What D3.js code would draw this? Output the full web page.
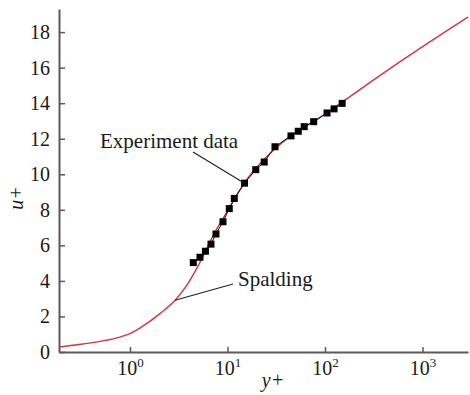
<!DOCTYPE html>
<html>
<head>
<meta charset="utf-8">
<script src="https://cdn.jsdelivr.net/npm/d3@7"></script>
<style>
  html, body { margin: 0; padding: 0; background: #fff; }
  svg text { font-family: "Liberation Serif", "DejaVu Serif", serif; fill: #1a1a1a; }
</style>
</head>
<body>
<div id="chart"></div>
<script>
// Spalding curve
const splY = [0.187, 0.3, 0.49, 0.79, 1.0, 1.27, 2.03, 2.9, 3.82, 4.83, 7.15, 10.6, 15.1, 25.2, 43.8, 89, 153, 541, 2930];
const splU = [0.28, 0.42, 0.6, 0.84, 1.04, 1.36, 2.16, 2.91, 3.75, 4.69, 6.56, 8.16, 9.56, 10.98, 12.13, 13.2, 14.1, 16.2, 18.85];

// experiment data
const expY = [4.46, 5.22, 5.94, 6.77, 7.62, 8.99, 10.43, 11.74, 14.94, 19.5, 23.8, 30.7, 44.8, 53.2, 61.2, 76.6, 105, 124, 150];
const expU = [5.03, 5.33, 5.67, 6.07, 6.64, 7.33, 8.07, 8.64, 9.50, 10.26, 10.69, 11.55, 12.16, 12.42, 12.68, 12.96, 13.45, 13.68, 13.99];

const xTicks = [1, 10, 100, 1000];
const xTickExp = ['0', '1', '2', '3'];
const yTicks = [0, 2, 4, 6, 8, 10, 12, 14, 16, 18];

const W = 470, H = 395;
const axisColor = '#5a5a5a';

const svg = d3.select('#chart').append('svg')
  .attr('width', W)
  .attr('height', H);

const x = d3.scaleLog()
  .domain([0.187, 2930])
  .range([59, 468]);

const y = d3.scaleLinear()
  .domain([0, 19.3])
  .range([352, 9]);

// y axis
const yAxis = d3.axisLeft(y)
  .tickValues(yTicks)
  .tickSizeInner(-6)
  .tickSizeOuter(0)
  .tickPadding(9)
  .tickFormat(d => d);

const gy = svg.append('g')
  .attr('transform', `translate(${x.range()[0]},0)`)
  .call(yAxis);
gy.select('.domain').attr('stroke', axisColor).attr('stroke-width', 2);
gy.selectAll('.tick line').attr('stroke', axisColor).attr('stroke-width', 1.5);
gy.selectAll('.tick text')
  .style('font-family', '"Liberation Serif", serif')
  .style('font-size', '20px')
  .style('fill', '#1a1a1a');

// x axis
const xAxis = d3.axisBottom(x)
  .tickValues(xTicks)
  .tickSizeInner(-5)
  .tickSizeOuter(0)
  .tickFormat(() => '');

const gx = svg.append('g')
  .attr('transform', `translate(0,${y(0)})`)
  .call(xAxis);
gx.select('.domain').attr('stroke', axisColor).attr('stroke-width', 2);
gx.selectAll('.tick line').attr('stroke', axisColor).attr('stroke-width', 1.5);
gx.selectAll('.tick text').each(function(d, i) {
  const t = d3.select(this)
    .attr('y', 23)
    .attr('dy', 0)
    .style('font-family', '"Liberation Serif", serif')
    .style('font-size', '20px')
    .style('fill', '#1a1a1a');
  t.append('tspan').text('10');
  t.append('tspan')
    .attr('dy', -8)
    .style('font-size', '13px')
    .text(xTickExp[i]);
});

// axis titles
svg.append('text')
  .attr('transform', 'translate(23,198) rotate(-90)')
  .attr('text-anchor', 'middle')
  .style('font-size', '20px')
  .style('font-style', 'italic')
  .text('u+');

svg.append('text')
  .attr('x', 273)
  .attr('y', 387)
  .attr('text-anchor', 'middle')
  .style('font-size', '20px')
  .style('font-style', 'italic')
  .text('y+');

// Spalding curve
const splData = splY.map((v, i) => ({ yp: v, up: splU[i] }));
const line = d3.line()
  .x(d => x(d.yp))
  .y(d => y(d.up))
  .curve(d3.curveMonotoneX);

svg.append('path')
  .datum(splData)
  .attr('d', line)
  .attr('fill', 'none')
  .attr('stroke', '#d8313f')
  .attr('stroke-width', 1.4);

// experiment data: thin black line + squares
const expData = expY.map((v, i) => ({ yp: v, up: expU[i] }));
svg.append('path')
  .datum(expData)
  .attr('d', d3.line().x(d => x(d.yp)).y(d => y(d.up)))
  .attr('fill', 'none')
  .attr('stroke', '#111')
  .attr('stroke-width', 1);

const sq = 7;
svg.selectAll('rect.pt')
  .data(expData)
  .enter().append('rect')
  .attr('class', 'pt')
  .attr('x', d => x(d.yp) - sq / 2)
  .attr('y', d => y(d.up) - sq / 2)
  .attr('width', sq)
  .attr('height', sq)
  .attr('fill', '#000');

// annotations
const expPt = expData[8];
svg.append('line')
  .attr('x1', 193).attr('y1', 152)
  .attr('x2', x(expPt.yp)).attr('y2', y(expPt.up))
  .attr('stroke', '#222').attr('stroke-width', 1.2);
svg.append('text')
  .attr('x', 100)
  .attr('y', 148)
  .style('font-size', '21px')
  .text('Experiment data');

const splPt = splData[7];
svg.append('line')
  .attr('x1', 233).attr('y1', 284)
  .attr('x2', x(splPt.yp)).attr('y2', y(splPt.up))
  .attr('stroke', '#222').attr('stroke-width', 1.2);
svg.append('text')
  .attr('x', 238)
  .attr('y', 286)
  .style('font-size', '21px')
  .text('Spalding');
</script>
</body>
</html>
